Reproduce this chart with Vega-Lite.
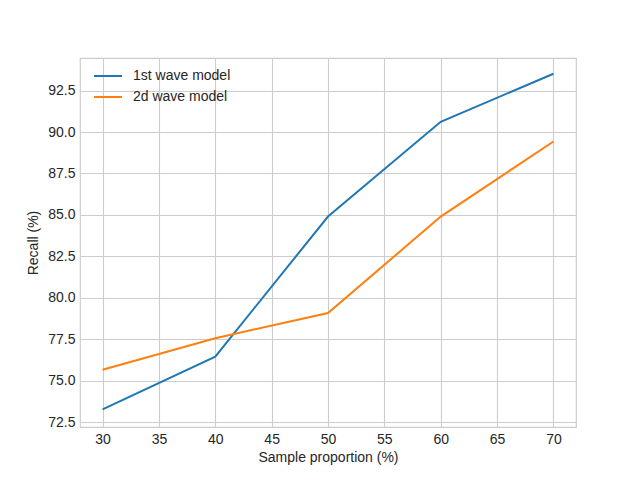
{
  "$schema": "https://vega.github.io/schema/vega-lite/v6.json",
  "width": 496,
  "height": 369,
  "autosize": {"type": "none"},
  "padding": {"left": 80, "top": 58, "right": 64, "bottom": 53},
  "background": "white",
  "config": {
    "font": "Liberation Sans",
    "view": {"stroke": "#cccccc", "strokeWidth": 1.2},
    "axis": {
      "domain": false,
      "ticks": false,
      "grid": true,
      "gridColor": "#cccccc",
      "gridWidth": 1.1,
      "labelFont": "Liberation Sans",
      "labelFontSize": 14,
      "labelColor": "#262626",
      "titleFont": "Liberation Sans",
      "titleFontSize": 14,
      "titleFontWeight": "normal",
      "titleColor": "#262626",
      "labelPadding": 5
    }
  },
  "data": {
    "values": [
      {"proportion": 30, "recall": 73.26, "model": "1st wave model"},
      {"proportion": 40, "recall": 76.45, "model": "1st wave model"},
      {"proportion": 50, "recall": 84.9, "model": "1st wave model"},
      {"proportion": 60, "recall": 90.62, "model": "1st wave model"},
      {"proportion": 70, "recall": 93.52, "model": "1st wave model"},
      {"proportion": 30, "recall": 75.65, "model": "2d wave model"},
      {"proportion": 40, "recall": 77.56, "model": "2d wave model"},
      {"proportion": 50, "recall": 79.08, "model": "2d wave model"},
      {"proportion": 60, "recall": 84.9, "model": "2d wave model"},
      {"proportion": 70, "recall": 89.43, "model": "2d wave model"}
    ]
  },
  "mark": {"type": "line", "strokeWidth": 2, "clip": true},
  "encoding": {
    "x": {
      "field": "proportion",
      "type": "quantitative",
      "title": "Sample proportion (%)",
      "scale": {"domain": [28, 72], "nice": false, "zero": false},
      "axis": {"values": [30, 35, 40, 45, 50, 55, 60, 65, 70], "titlePadding": 4}
    },
    "y": {
      "field": "recall",
      "type": "quantitative",
      "title": "Recall (%)",
      "scale": {"domain": [72.2, 94.47], "nice": false, "zero": false},
      "axis": {
        "values": [72.5, 75, 77.5, 80, 82.5, 85, 87.5, 90, 92.5],
        "format": ".1f",
        "titlePadding": 7
      }
    },
    "color": {
      "field": "model",
      "type": "nominal",
      "scale": {"range": ["#1f77b4", "#ff7f0e"]},
      "legend": {
        "title": null,
        "orient": "none",
        "legendX": 20,
        "legendY": 10,
        "symbolType": "M-2,0H2",
        "symbolSize": 196,
        "symbolStrokeWidth": 2,
        "labelFont": "Liberation Sans",
        "labelFontSize": 14,
        "labelColor": "#262626",
        "labelOffset": 17,
        "rowPadding": 6
      }
    }
  }
}
